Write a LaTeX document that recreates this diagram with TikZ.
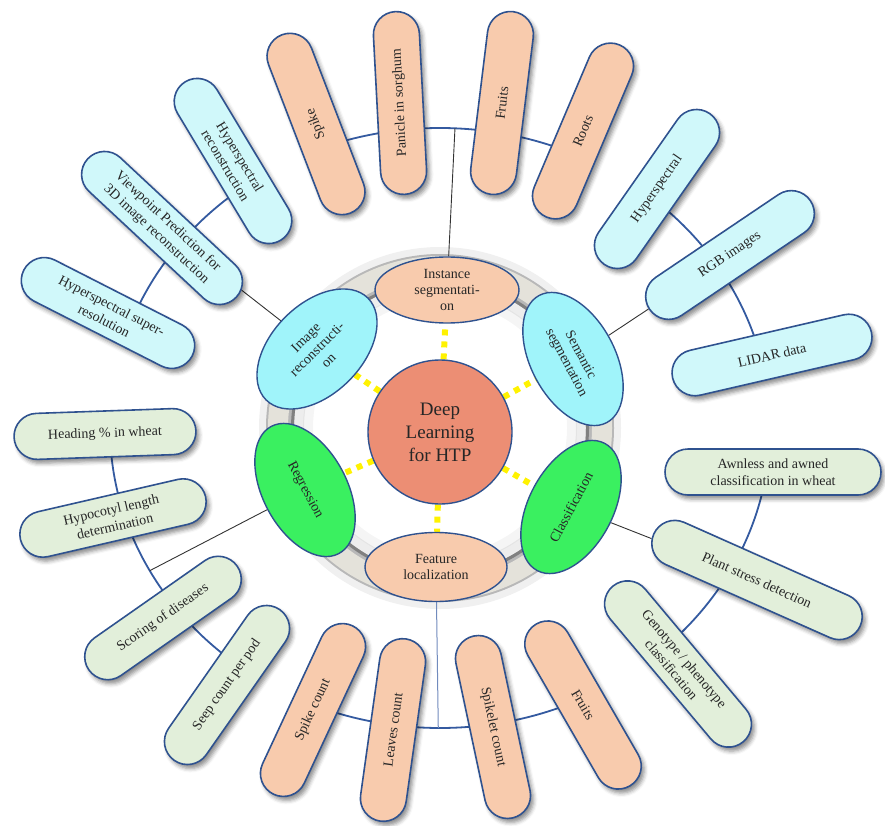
\documentclass[tikz,border=0pt]{standalone}
\usepackage{fontspec}
\setmainfont{Liberation Serif}
\usetikzlibrary{calc}
\usetikzlibrary{shapes.geometric}
\usetikzlibrary{shapes.misc}
\usetikzlibrary{shadows.blur}
\usetikzlibrary{backgrounds}

\definecolor{peach}{RGB}{248,203,173}
\definecolor{palecyan}{RGB}{208,248,250}
\definecolor{palegreen}{RGB}{226,239,218}
\definecolor{ovalcyan}{RGB}{160,244,250}
\definecolor{ovalgreen}{RGB}{58,240,96}
\definecolor{coral}{RGB}{236,142,116}
\definecolor{edgeblue}{RGB}{47,82,143}
\definecolor{arcblue}{RGB}{52,90,160}
\definecolor{dotyellow}{RGB}{255,242,0}
\definecolor{ringlight}{RGB}{228,226,218}

\tikzset{
  pill/.style={rounded rectangle, draw=edgeblue, line width=1.6pt, minimum height=46pt,
    inner sep=2pt, align=center, text=black!85, font=\fontsize{14}{17}\selectfont,
    blur shadow={shadow xshift=3pt, shadow yshift=-4pt, shadow blur radius=4pt, shadow opacity=45}},
  peachpill/.style={pill, fill=peach},
  cyanpill/.style={pill, fill=palecyan},
  greenpill/.style={pill, fill=palegreen},
  oval/.style={ellipse, draw=edgeblue, line width=1.4pt, inner sep=0pt, align=center,
    text=black!85, font=\fontsize{14}{16}\selectfont},
  link/.style={draw=black!80, line width=0.9pt},
  arcline/.style={draw=arcblue, line width=1.8pt},
  dots/.style={draw=dotyellow, line width=6pt, dash pattern=on 6pt off 6pt}
}

\begin{document}
\begin{tikzpicture}[x=1pt, y=-1pt]
    \useasboundingbox (0,0) rectangle (885,826);
    \coordinate (C) at (440,428);
    \coordinate (topj) at ($(C)+(87.4:330pt and 300pt)$);
    \coordinate (botj) at ($(C)+(-90.3:330pt and 300pt)$);
    \coordinate (leftj) at ($(C)+(208.4:330pt and 300pt)$);

    % centre and the six methods
    \node[circle, draw=edgeblue, line width=1.4pt, fill=coral, minimum size=144pt, align=center,
      text=black!85, font=\fontsize{19}{23}\selectfont] (deep) at (440,432) {Deep\\Learning\\for HTP};
    \node[oval, fill=peach, minimum width=144pt, minimum height=66pt] (inst) at (447,290) {Instance\\segmentati-\\on};
    \node[oval, fill=ovalcyan, minimum width=144pt, minimum height=90pt, rotate=45] (imgrec) at (317,349) {Image\\reconstructi-\\on};
    \node[oval, fill=ovalgreen, minimum width=144pt, minimum height=84pt, rotate=-62] (regr) at (305,490) {Regression};
    \node[oval, fill=peach, minimum width=142pt, minimum height=69pt] (feat) at (436,567) {Feature\\localization};
    \node[oval, fill=ovalgreen, minimum width=144pt, minimum height=84pt, rotate=62] (classif) at (571,507) {Classification};
    \node[oval, fill=ovalcyan, minimum width=144pt, minimum height=84pt, rotate=-62] (sem) at (573,359) {Semantic\\segmentation};

    % instance segmentation
    \node[peachpill, minimum width=195pt, rotate=111] (spike) at (316,124) {Spike};
    \node[peachpill, minimum width=187pt, rotate=93] (panicle) at (400,103) {Panicle in sorghum};
    \node[peachpill, minimum width=188pt, rotate=83] (fruitstop) at (502,103) {Fruits};
    \node[peachpill, minimum width=191pt, rotate=67] (roots) at (583,131) {Roots};
    % semantic segmentation
    \node[cyanpill, minimum width=188pt, rotate=55] (hyper) at (657,189) {Hyperspectral};
    \node[cyanpill, minimum width=198pt, rotate=34] (rgb) at (730,255) {RGB images};
    \node[cyanpill, minimum width=208pt, rotate=13] (lidar) at (772,355) {LIDAR data};
    % classification
    \node[greenpill, minimum width=220pt] (awn) at (773,472) {Awnless and awned\\classification in wheat};
    \node[greenpill, minimum width=230pt, rotate=-24] (stress) at (757,580) {Plant stress detection};
    \node[greenpill, minimum width=207pt, rotate=-50] (geno) at (678,664) {Genotype / phenotype\\classification};
    % feature localization
    \node[peachpill, minimum width=191pt, rotate=-60] (fruitsbot) at (583,705) {Fruits};
    \node[peachpill, minimum width=190pt, rotate=-78] (spikelet) at (493,727) {Spikelet count};
    \node[peachpill, minimum width=188pt, rotate=82] (leaves) at (393,730) {Leaves count};
    \node[peachpill, minimum width=190pt, rotate=65] (spikecount) at (313,710) {Spike count};
    % regression
    \node[greenpill, minimum width=188pt, rotate=55] (seep) at (227,685) {Seep count per pod};
    \node[greenpill, minimum width=185pt, rotate=35] (scoring) at (163,618) {Scoring of diseases};
    \node[greenpill, minimum width=194pt, rotate=13] (hypo) at (113,518) {Hypocotyl length\\determination};
    \node[greenpill, minimum width=186pt, rotate=2] (heading) at (105,434) {Heading \% in wheat};
    % image reconstruction
    \node[cyanpill, minimum width=193pt, rotate=-27] (superres) at (108,313) {Hyperspectral super-\\resolution};
    \node[cyanpill, minimum width=207pt, rotate=-43] (viewpt) at (162,228) {Viewpoint Prediction for\\3D image reconstruction};
    \node[cyanpill, minimum width=189pt, rotate=-59] (hyprec) at (233,161) {Hyperspectral\\reconstruction};

    \begin{scope}[on background layer]
        % ring
        \draw[line width=8pt, black, opacity=.06] (C) circle[radius=177pt];
        \draw[line width=28pt, black!28] (C) circle[radius=160pt];
        \draw[line width=20pt, ringlight] (C) circle[radius=162pt];
        \draw[line width=3pt, black!50] (C) circle[radius=147.5pt];
        \draw[line width=10pt, black, opacity=.07] (C) circle[radius=141pt];
        \draw[line width=10pt, black, opacity=.04] (C) circle[radius=132pt];
        % outer arcs
        \draw[arcline] ($(C)+(110:330pt and 300pt)$) arc[start angle=110, end angle=66, x radius=330pt, y radius=300pt];
        \draw[arcline] ($(C)+(49:330pt and 300pt)$) arc[start angle=49, end angle=15, x radius=330pt, y radius=300pt];
        \draw[arcline] ($(C)+(-8:330pt and 300pt)$) arc[start angle=-8, end angle=-48, x radius=330pt, y radius=300pt];
        \draw[arcline] ($(C)+(-113:330pt and 300pt)$) arc[start angle=-113, end angle=-64, x radius=330pt, y radius=300pt];
        \draw[arcline] ($(C)+(181:330pt and 300pt)$) arc[start angle=181, end angle=236, x radius=330pt, y radius=300pt];
        \draw[arcline] ($(C)+(127:330pt and 300pt)$) arc[start angle=127, end angle=158, x radius=330pt, y radius=300pt];
        % links
        \draw[link] (topj) -- (inst);
        \draw[draw=arcblue!70, line width=1pt] (feat) -- (botj);
        \draw[link] (sem) -- (rgb);
        \draw[link] (classif) -- (stress);
        \draw[link] (regr) -- (leftj);
        \draw[link] (imgrec) -- (viewpt);
        % yellow dots
        \draw[dots] (deep) -- (inst);
        \draw[dots] (deep) -- (imgrec);
        \draw[dots] (deep) -- (regr);
        \draw[dots] (deep) -- (feat);
        \draw[dots] (deep) -- (classif);
        \draw[dots] (deep) -- (sem);
    \end{scope}
\end{tikzpicture}
\end{document}
